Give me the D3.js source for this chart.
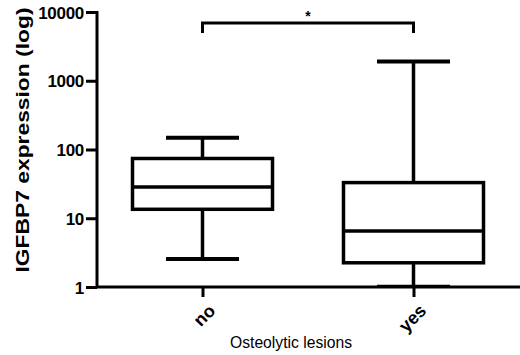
<!DOCTYPE html>
<html><head><meta charset="utf-8">
<script src="https://cdn.jsdelivr.net/npm/d3@7"></script>
<style>
body{margin:0;background:#fff;}
text{font-family:"Liberation Sans",Arial,sans-serif;}
</style></head>
<body><svg id="c" width="520" height="355"></svg>
<script>
const categories = ["no", "yes"];
const whiskerLow = [2.55, 1.05];
const q1 = [13.5, 2.25];
const median = [28.5, 6.5];
const q3 = [74, 33];
const whiskerHigh = [148, 1900];
const yTicks = [1, 10, 100, 1000, 10000];
const yLabel = "IGFBP7 expression (log)";
const xLabel = "Osteolytic lesions";
const sigLabel = "*";

const svg = d3.select("#c");
const y = d3.scaleLog().domain([1, 10000]).range([287, 12]);
const x = d3.scalePoint().domain(categories).range([97, 519]).padding(0.5);
const boxW = 140, capW = 73;

// y axis
const ya = svg.append("g").attr("transform", "translate(97,0)")
  .call(d3.axisLeft(y).tickValues(yTicks).tickFormat(d3.format("d")).tickSize(11).tickSizeOuter(0));
ya.select(".domain").attr("stroke", "#000").attr("stroke-width", 3).attr("d", "M0,287V11");
ya.selectAll(".tick line").attr("stroke", "#000").attr("stroke-width", 3);
ya.selectAll(".tick text").attr("font-size", 17).attr("font-weight", "bold").attr("fill", "#000")
  .attr("font-family", "Liberation Sans, Arial, sans-serif").attr("x", -13).attr("dy", "0.36em")
  .attr("letter-spacing", "-0.3px");

// x axis
const xa = svg.append("g").attr("transform", "translate(0,287)")
  .call(d3.axisBottom(x).tickSize(10).tickSizeOuter(0).tickFormat(""));
xa.select(".domain").attr("stroke", "#000").attr("stroke-width", 3).attr("d", "M96,0H520");
xa.selectAll(".tick line").attr("stroke", "#000").attr("stroke-width", 3);

// rotated x tick labels
svg.append("g").selectAll("text").data(categories).join("text")
  .attr("transform", d => `translate(${x(d) + 5},${303}) rotate(-45)`)
  .attr("text-anchor", "end").attr("dy", "0.7em")
  .attr("font-size", 18).attr("font-weight", "bold").attr("fill", "#000")
  .text(d => d);

// boxes
const g = svg.append("g").attr("stroke", "#000").attr("fill", "none").attr("stroke-width", 3.5);
categories.forEach((c, i) => {
  const cx = x(c);
  g.append("line").attr("x1", cx).attr("x2", cx).attr("y1", y(whiskerHigh[i])).attr("y2", y(q3[i]));
  g.append("line").attr("x1", cx).attr("x2", cx).attr("y1", y(q1[i])).attr("y2", y(whiskerLow[i]));
  g.append("line").attr("x1", cx - capW / 2).attr("x2", cx + capW / 2).attr("y1", y(whiskerHigh[i])).attr("y2", y(whiskerHigh[i])).attr("stroke-width", 4);
  g.append("line").attr("x1", cx - capW / 2).attr("x2", cx + capW / 2).attr("y1", y(whiskerLow[i])).attr("y2", y(whiskerLow[i])).attr("stroke-width", i === 1 ? 1.5 : 4);
  g.append("rect").attr("x", cx - boxW / 2).attr("width", boxW)
    .attr("y", y(q3[i])).attr("height", y(q1[i]) - y(q3[i])).attr("fill", "#fff");
  g.append("line").attr("x1", cx - boxW / 2).attr("x2", cx + boxW / 2).attr("y1", y(median[i])).attr("y2", y(median[i]));
});

// significance bracket
const bY = 23;
svg.append("path").attr("fill", "none").attr("stroke", "#000").attr("stroke-width", 3)
  .attr("d", `M${x("no")},33V${bY}H${x("yes")}V33`);
svg.append("text").attr("x", (x("no") + x("yes")) / 2).attr("y", 21)
  .attr("text-anchor", "middle").attr("font-size", 14).attr("font-weight", "bold").text(sigLabel);

// axis titles
svg.append("text").attr("transform", "translate(29,140) rotate(-90)")
  .attr("text-anchor", "middle").attr("font-size", 18).attr("font-weight", "bold")
  .attr("textLength", 265).attr("lengthAdjust", "spacingAndGlyphs").text(yLabel);
svg.append("text").attr("x", 291).attr("y", 348).attr("text-anchor", "middle")
  .attr("font-family", "Liberation Sans Narrow, Liberation Sans, sans-serif")
  .attr("font-size", 16).attr("textLength", 122).attr("lengthAdjust", "spacingAndGlyphs").text(xLabel);
</script></body></html>
